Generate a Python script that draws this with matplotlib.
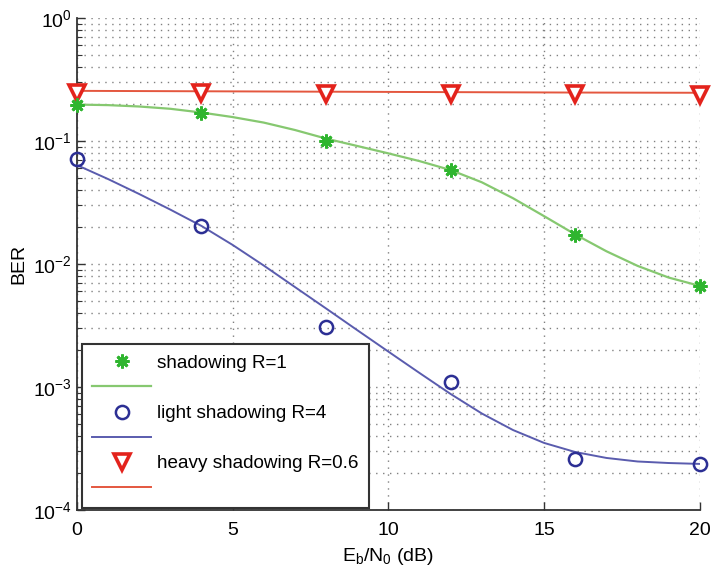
import matplotlib
matplotlib.use("Agg")
import matplotlib.pyplot as plt
from matplotlib.lines import Line2D
from matplotlib.ticker import LogLocator, NullFormatter, FixedLocator

plt.rcParams['font.family'] = ['Liberation Sans', 'DejaVu Sans']
plt.rcParams['mathtext.fontset'] = 'custom'
plt.rcParams['mathtext.rm'] = 'Liberation Sans'
plt.rcParams['mathtext.it'] = 'Liberation Sans'

# Simulated points (every 4 dB)
snr_sim = [0, 4, 8, 12, 16, 20]
ber_sim_r1 = [0.198, 0.168, 0.100, 0.058, 0.0172, 0.0066]
ber_sim_r4 = [0.071, 0.0204, 0.0031, 0.0011, 2.6e-4, 2.37e-4]
ber_sim_r06 = [0.245, 0.244, 0.243, 0.241, 0.240, 0.239]

# Analytical curves (every 1 dB)
snr_th = [0, 1, 2, 3, 4, 5, 6, 7, 8, 9, 10, 11, 12, 13, 14, 15, 16, 17, 18, 19, 20]
ber_th_r1 = [0.198, 0.196, 0.191, 0.183, 0.1706, 0.1567, 0.1413, 0.123, 0.1047,
             0.0912, 0.0794, 0.0687, 0.0581, 0.0462, 0.0343, 0.0245, 0.0174,
             0.0127, 0.00966, 0.00776, 0.00664]
ber_th_r4 = [6.38e-2, 4.91e-2, 3.71e-2, 2.77e-2, 2.04e-2, 1.43e-2, 9.72e-3,
             6.50e-3, 4.35e-3, 2.90e-3, 1.94e-3, 1.30e-3, 8.77e-4, 6.09e-4,
             4.47e-4, 3.51e-4, 2.96e-4, 2.65e-4, 2.48e-4, 2.41e-4, 2.37e-4]
ber_th_r06 = [0.256, 0.2555, 0.255, 0.2545, 0.254, 0.2535, 0.253, 0.2525,
              0.252, 0.2515, 0.251, 0.2505, 0.250, 0.2495, 0.249, 0.2485,
              0.248, 0.2478, 0.2475, 0.2472, 0.247]

labels = ['shadowing R=1', 'light shadowing R=4', 'heavy shadowing R=0.6']

c_green_m = '#2fb52f'
c_green_l = '#86c870'
c_blue_m = '#2c2f94'
c_blue_l = '#5a5cae'
c_red_m = '#e3231c'
c_red_l = '#e4573f'

asterisk = (8, 2, 0)

fig = plt.figure(figsize=(7.12, 5.74), dpi=100)
ax = fig.add_axes([0.108, 0.1115, 0.875, 0.857])

ax.semilogy(snr_th, ber_th_r06, '-', color=c_red_l, lw=1.4, zorder=3)
ax.semilogy(snr_th, ber_th_r1, '-', color=c_green_l, lw=1.6, zorder=3)
ax.semilogy(snr_th, ber_th_r4, '-', color=c_blue_l, lw=1.4, zorder=3)

ax.semilogy(snr_sim, ber_sim_r06, 'v', color=c_red_m, mfc='white', mec=c_red_m,
            ms=11, mew=2.6, zorder=4, clip_on=False)
ax.semilogy(snr_sim, ber_sim_r1, ls='none', marker=asterisk, color=c_green_m,
            ms=10, mew=2.0, zorder=4, clip_on=False)
ax.semilogy(snr_sim, ber_sim_r4, 'o', color=c_blue_m, mfc='none', mec=c_blue_m,
            ms=9.5, mew=1.8, zorder=4, clip_on=False)

ax.set_xlim(0, 20)
ax.set_ylim(1e-4, 1e0)
ax.xaxis.set_major_locator(FixedLocator([0, 5, 10, 15, 20]))
ax.yaxis.set_major_locator(LogLocator(base=10, numticks=10))
ax.yaxis.set_minor_locator(LogLocator(base=10, subs=range(2, 10), numticks=20))
ax.yaxis.set_minor_formatter(NullFormatter())

grid_style = dict(color='#808080', linestyle=(0, (1, 4)), linewidth=1.0)
ax.grid(True, which='major', axis='both', **grid_style)
ax.grid(True, which='minor', axis='y', **grid_style)
ax.set_axisbelow(True)

for side in ('top', 'right'):
    ax.spines[side].set_visible(False)
for side in ('left', 'bottom'):
    ax.spines[side].set_color('#333333')
    ax.spines[side].set_linewidth(1.3)

ax.tick_params(which='both', direction='in', colors='#333333', labelcolor='black',
               labelsize=14)
ax.tick_params(which='major', length=6, width=1.0)
ax.tick_params(which='minor', length=3.5, width=0.8)
ax.tick_params(axis='x', pad=9)

ax.set_ylabel('BER', fontsize=14, labelpad=4)
ax.set_xlabel(r'E$_\mathregular{b}$/N$_\mathregular{0}$ (dB)', fontsize=14, labelpad=5)

handles = [
    Line2D([], [], ls='none', marker=asterisk, color=c_green_m, ms=10, mew=2.0),
    Line2D([], [], ls='-', color=c_green_l, lw=1.6),
    Line2D([], [], ls='none', marker='o', mfc='none', mec=c_blue_m, ms=9.5, mew=1.8),
    Line2D([], [], ls='-', color=c_blue_l, lw=1.4),
    Line2D([], [], ls='none', marker='v', mfc='white', mec=c_red_m, ms=11, mew=2.6),
    Line2D([], [], ls='-', color=c_red_l, lw=1.4),
]
leg_labels = [labels[0], ' ', labels[1], ' ', labels[2], ' ']
leg = ax.legend(handles, leg_labels, loc='lower left', bbox_to_anchor=(0.008, 0.004),
                borderaxespad=0, fontsize=13.6, handlelength=3.1, handletextpad=0.35,
                labelspacing=0.42, borderpad=0.55, numpoints=1, fancybox=False,
                framealpha=1, edgecolor='#333333')
leg.get_frame().set_linewidth(1.5)
leg.set_zorder(10)

fig.savefig('out.png', dpi=100)
